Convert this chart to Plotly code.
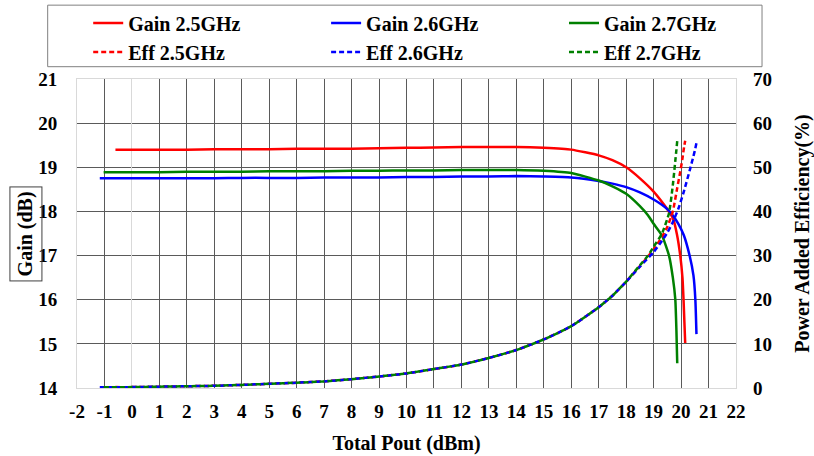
import plotly.graph_objects as go

# 2.5 GHz
x_25 = [-0.6, 0, 1, 2, 3, 4, 5, 6, 7, 8, 9, 10, 11, 12, 13, 14, 15, 16, 17, 17.5,
        18, 18.5, 19, 19.3, 19.5, 19.7, 19.85, 19.97, 20.05, 20.09, 20.12, 20.15]
gain_25 = [19.40, 19.40, 19.40, 19.40, 19.41, 19.41, 19.41, 19.42, 19.42, 19.42, 19.43,
           19.44, 19.45, 19.46, 19.46, 19.46, 19.44, 19.40, 19.27, 19.16, 19.00, 18.75,
           18.45, 18.22, 18.05, 17.85, 17.48, 17.00, 16.50, 16.00, 15.50, 15.02]
eff_25 = [0.2, 0.2, 0.3, 0.4, 0.5, 0.7, 0.95, 1.2, 1.5, 2.0, 2.6, 3.3, 4.3, 5.3, 6.8,
          8.6, 11.0, 14.0, 18.3, 20.9, 24.1, 27.6, 31.4, 34.2, 36.5, 40.0, 45.0, 49.0,
          52.0, 53.8, 55.0, 56.0]

# 2.6 GHz
x_26 = [-1.17, 0, 1, 2, 3, 4, 5, 6, 7, 8, 9, 10, 11, 12, 13, 14, 15, 16, 17, 17.5,
        18, 18.5, 19, 19.3, 19.5, 19.7, 19.9, 20.1, 20.31, 20.45, 20.52, 20.56]
gain_26 = [18.75, 18.75, 18.75, 18.75, 18.75, 18.76, 18.76, 18.76, 18.77, 18.77, 18.77,
           18.78, 18.78, 18.79, 18.79, 18.80, 18.79, 18.77, 18.69, 18.63, 18.55, 18.43,
           18.27, 18.15, 18.05, 17.91, 17.72, 17.46, 17.00, 16.55, 16.00, 15.22]
eff_26 = [0.15, 0.2, 0.3, 0.4, 0.5, 0.7, 0.95, 1.2, 1.5, 2.0, 2.6, 3.3, 4.3, 5.3, 6.8,
          8.6, 11.0, 14.0, 18.3, 20.9, 24.1, 27.5, 30.8, 33.3, 35.2, 37.6, 40.6, 44.5,
          49.2, 52.5, 54.3, 55.5]

# 2.7 GHz
x_27 = [-1.03, 0, 1, 2, 3, 4, 5, 6, 7, 8, 9, 10, 11, 12, 13, 14, 15, 16, 17, 17.5,
        18, 18.5, 18.8, 19.0, 19.3, 19.56, 19.7, 19.79, 19.83, 19.86]
gain_27 = [18.89, 18.89, 18.89, 18.90, 18.90, 18.90, 18.91, 18.91, 18.91, 18.92, 18.92,
           18.93, 18.93, 18.94, 18.94, 18.94, 18.92, 18.87, 18.70, 18.57, 18.40, 18.12,
           17.91, 17.72, 17.46, 17.00, 16.50, 16.00, 15.30, 14.56]
eff_27 = [0.15, 0.2, 0.3, 0.4, 0.5, 0.7, 0.95, 1.2, 1.5, 2.0, 2.6, 3.3, 4.3, 5.3, 6.8,
          8.6, 11.0, 14.0, 18.3, 20.9, 24.1, 27.8, 30.0, 32.0, 34.9, 39.6, 46.0, 51.5,
          54.0, 56.0]

x_ticks = list(range(-2, 23))
x_labels = [str(v) for v in x_ticks]  # plain hyphen, as in the original
gain_ticks = list(range(14, 22))
eff_ticks = list(range(0, 71, 10))

FONT = "Liberation Serif"
RED, BLUE, GREEN = "#ff0000", "#0000ff", "#008000"

series = [
    ("2.5GHz", x_25, gain_25, eff_25, RED, "legend"),
    ("2.6GHz", x_26, gain_26, eff_26, BLUE, "legend2"),
    ("2.7GHz", x_27, gain_27, eff_27, GREEN, "legend3"),
]

fig = go.Figure()
for name, xs, g, e, color, leg in series:
    fig.add_trace(go.Scatter(
        x=xs, y=g, name="Gain " + name, mode="lines", legend=leg, legendgroup="g" + name,
        line=dict(color=color, width=2.5, shape="spline", smoothing=0.5),
    ))
    fig.add_trace(go.Scatter(
        x=xs, y=e, name="Eff " + name, mode="lines", legend=leg, legendgroup="e" + name,
        yaxis="y2",
        line=dict(color=color, width=2.5, dash="5px,3px", shape="spline", smoothing=0.5),
    ))

bold = dict(family=FONT, size=19, color="black", weight="bold")
title_font = dict(family=FONT, size=20, color="black", weight="bold")
grid = "#5a5a5a"
edge = "#d9d9d9"

leg_common = dict(
    orientation="v", xanchor="left", yanchor="top", y=1.244,
    bgcolor="rgba(0,0,0,0)", borderwidth=0, tracegroupgap=0,
    traceorder="grouped", itemwidth=30,
    font=dict(family=FONT, size=20, color="black", weight="bold"),
)

fig.update_layout(
    width=814, height=456,
    margin=dict(l=77, r=78, t=79, b=68, autoexpand=False),
    plot_bgcolor="white", paper_bgcolor="white",
    showlegend=True,
    legend=dict(leg_common, x=0.017),
    legend2=dict(leg_common, x=0.378),
    legend3=dict(leg_common, x=0.739),
    xaxis=dict(
        range=[-2, 22], tickvals=x_ticks, ticktext=x_labels, ticks="", ticklabelstandoff=6,
        tickfont=bold, showgrid=True, gridcolor=grid, gridwidth=1,
        zeroline=True, zerolinecolor=edge, zerolinewidth=1,
        showline=True, linecolor=edge, linewidth=1, mirror=True,
        title=dict(text="Total Pout (dBm)", font=title_font, standoff=15),
    ),
    yaxis=dict(
        range=[14, 21], tickvals=gain_ticks, ticks="", ticklabelstandoff=15,
        tickfont=bold, showgrid=True, gridcolor=grid, gridwidth=1,
        zeroline=False, showline=True, linecolor=edge, linewidth=1, mirror=True,
    ),
    yaxis2=dict(
        range=[0, 70], tickvals=eff_ticks, ticks="", ticklabelstandoff=16,
        tickfont=bold, overlaying="y", side="right", showgrid=False, zeroline=False,
        title=dict(text="Power Added Efficiency(%)", font=title_font, standoff=24),
    ),
    shapes=[dict(
        type="rect", xref="paper", yref="paper",
        x0=-0.0445, x1=1.0395, y0=1.0398, y1=1.239,
        line=dict(color="#808080", width=1), fillcolor="rgba(0,0,0,0)",
    )],
    annotations=[dict(
        text="Gain (dB)", xref="paper", yref="paper", x=-0.0775, y=0.5,
        xanchor="center", yanchor="middle", textangle=-90, showarrow=False,
        font=title_font, bordercolor="#404040", borderwidth=1, borderpad=4,
    )],
)

# drop the browser's default 8px body margin so the chart sits at the page corner
fig.write_html("out.html", config={"displayModeBar": False},
               post_script="document.body.style.margin='0px';")
